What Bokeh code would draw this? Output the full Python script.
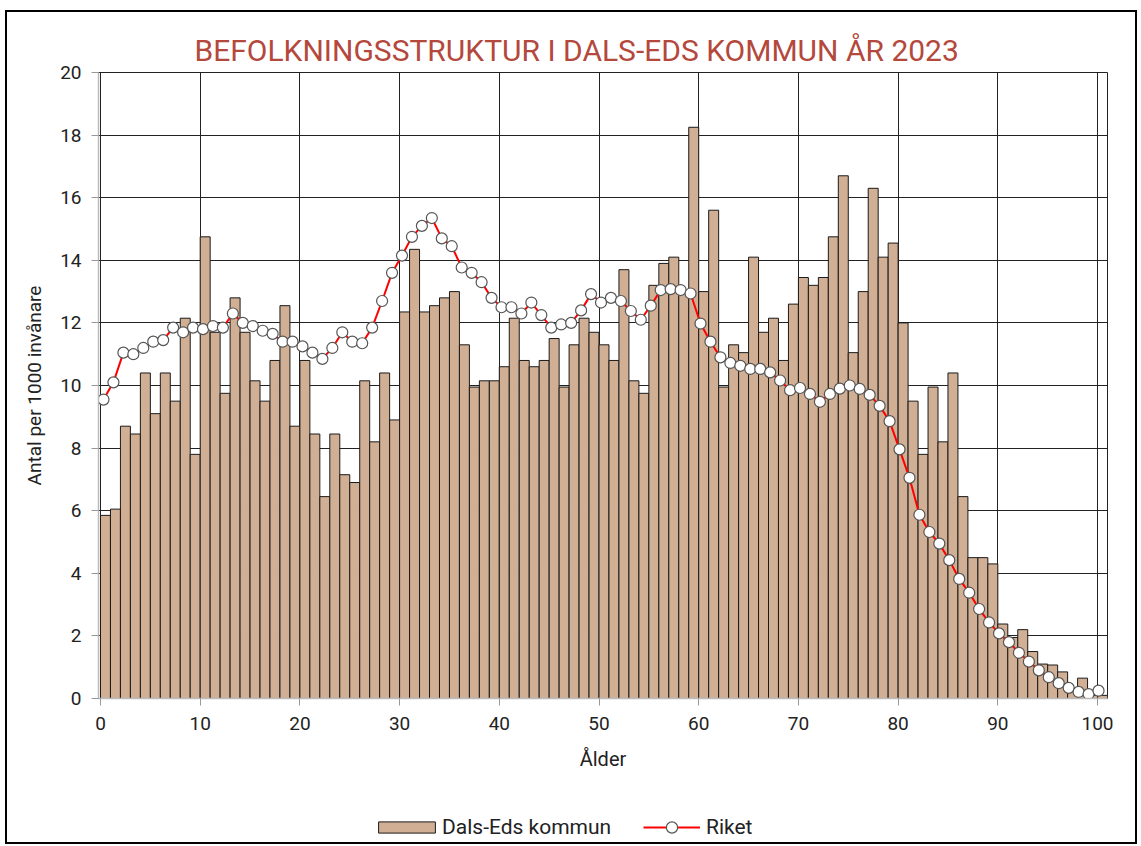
from bokeh.plotting import figure
from bokeh.layouts import column
from bokeh.models import Range1d, Legend, LegendItem, FixedTicker, Title
from bokeh.embed import file_html
from bokeh.resources import INLINE

ages = list(range(0, 101))

dals_ed = [
    5.85, 6.05, 8.7, 8.45, 10.4, 9.1, 10.4, 9.5, 12.15, 7.8,
    14.75, 11.7, 9.75, 12.8, 11.7, 10.15, 9.5, 10.8, 12.55, 8.7,
    10.8, 8.45, 6.45, 8.45, 7.15, 6.9, 10.15, 8.2, 10.4, 8.9,
    12.35, 14.35, 12.35, 12.55, 12.8, 13.0, 11.3, 9.95, 10.15, 10.15,
    10.6, 12.15, 10.8, 10.6, 10.8, 11.5, 9.95, 11.3, 12.15, 11.7,
    11.3, 10.8, 13.7, 10.15, 9.75, 13.2, 13.9, 14.1, 13.0, 18.25,
    13.0, 15.6, 9.95, 11.3, 11.05, 14.1, 11.7, 12.15, 10.8, 12.6,
    13.45, 13.2, 13.45, 14.75, 16.7, 11.05, 13.0, 16.3, 14.1, 14.55,
    12.0, 9.5, 7.8, 9.95, 8.2, 10.4, 6.45, 4.5, 4.5, 4.3,
    2.38, 1.95, 2.2, 1.5, 1.1, 1.07, 0.85, 0.25, 0.65, 0.1, 0.1,
]

riket = [
    9.55, 10.1, 11.05, 11.0, 11.2, 11.4, 11.45, 11.85, 11.7, 11.85,
    11.8, 11.9, 11.85, 12.3, 12.0, 11.9, 11.75, 11.65, 11.4, 11.4,
    11.25, 11.05, 10.85, 11.2, 11.7, 11.4, 11.35, 11.85, 12.7, 13.6,
    14.15, 14.75, 15.1, 15.35, 14.7, 14.45, 13.77, 13.6, 13.3, 12.8,
    12.5, 12.5, 12.3, 12.65, 12.25, 11.85, 11.95, 12.0, 12.4, 12.92,
    12.65, 12.8, 12.7, 12.38, 12.1, 12.55, 13.05, 13.08, 13.05, 12.94,
    11.98, 11.4, 10.9, 10.72, 10.63, 10.53, 10.53, 10.42, 10.16, 9.85,
    9.92, 9.73, 9.48, 9.73, 9.9, 10.0, 9.89, 9.7, 9.35, 8.86,
    7.96, 7.05, 5.87, 5.32, 4.95, 4.42, 3.82, 3.38, 2.86, 2.43,
    2.08, 1.8, 1.46, 1.18, 0.9, 0.68, 0.49, 0.34, 0.21, 0.14, 0.25,
]

x_ticks = [0, 10, 20, 30, 40, 50, 60, 70, 80, 90, 100]
y_ticks = [0, 2, 4, 6, 8, 10, 12, 14, 16, 18, 20]

title_text = "BEFOLKNINGSSTRUKTUR I DALS-EDS KOMMUN ÅR 2023"
x_label = "Ålder"
y_label = "Antal per 1000 invånare"
series_names = ["Dals-Eds kommun", "Riket"]

FONT = "Roboto"
BAR_FILL = "#D0AF94"
BAR_LINE = "#1a1a1a"
LINE_COL = "#FF0000"

bar_right = [a + 1 for a in ages]
line_x = [a * 0.998 + 0.3 for a in ages]

p = figure(width=1128, height=800, output_backend="svg", toolbar_location=None,
           x_range=Range1d(-0.2, 101), y_range=Range1d(0, 20),
           min_border_left=91, min_border_right=28, min_border_top=60,
           min_border_bottom=114)

p.title = Title(text=title_text, align="left", offset=96,
                text_color="#B4483C", text_font=FONT, text_font_size="30px",
                text_font_style="normal")

bars = p.quad(left=ages, right=bar_right, bottom=0, top=dals_ed,
              fill_color=BAR_FILL, line_color=BAR_LINE, line_width=1)
ln = p.line(line_x, riket, line_color=LINE_COL, line_width=2)
mk = p.scatter(line_x, riket, size=11, marker="circle", fill_color="white",
               line_color="#555555", line_width=1.2)

p.xaxis.ticker = FixedTicker(ticks=x_ticks)
p.yaxis.ticker = FixedTicker(ticks=y_ticks)
p.xgrid.ticker = FixedTicker(ticks=x_ticks)
p.ygrid.ticker = FixedTicker(ticks=y_ticks)
p.grid.grid_line_color = "#222222"
p.grid.grid_line_width = 1
p.outline_line_color = "#222222"
p.outline_line_width = 1

for ax in (p.xaxis, p.yaxis):
    ax.axis_line_color = "#BBBBBB"
    ax.axis_line_width = 1.5
    ax.major_tick_line_color = "#999999"
    ax.major_tick_out = 7
    ax.major_tick_in = 0
    ax.minor_tick_line_color = None
    ax.major_label_text_font = FONT
    ax.major_label_text_font_size = "19px"
    ax.major_label_text_color = "#222222"
    ax.axis_label_text_font = FONT
    ax.axis_label_text_font_size = "20px"
    ax.axis_label_text_font_style = "normal"
    ax.axis_label_text_color = "#222222"

p.xaxis.axis_label = x_label
p.xaxis.major_label_standoff = 11
p.xaxis.axis_label_standoff = 14
p.yaxis.axis_label = y_label
p.yaxis.major_label_standoff = 10
p.yaxis.axis_label_standoff = 11
p.yaxis.axis_label_text_font_size = "19px"

# legend strip below the chart (same series, drawn out of view; only the legends show)
pl = figure(width=1128, height=30, output_backend="svg", toolbar_location=None,
            x_range=Range1d(-0.2, 101), y_range=Range1d(100, 101),
            x_axis_type=None, y_axis_type=None,
            min_border_left=0, min_border_right=0, min_border_top=0,
            min_border_bottom=0)
pl.outline_line_color = None
pl.grid.visible = False
lg_bar = pl.quad(left=ages, right=bar_right, bottom=0, top=dals_ed,
                 fill_color=BAR_FILL, line_color=BAR_LINE, line_width=1)
lg_line = pl.line(line_x, riket, line_color=LINE_COL, line_width=2)
lg_mk = pl.scatter(line_x, riket, size=11, marker="circle", fill_color="white",
                   line_color="#555555", line_width=1.2)

common = dict(orientation="horizontal", padding=0, margin=0,
              label_text_font=FONT, label_text_font_size="21px",
              label_text_color="#222222", border_line_alpha=0,
              background_fill_alpha=0)
legend1 = Legend(items=[LegendItem(label=series_names[0], renderers=[lg_bar])],
                 location=(273, 3), glyph_width=71, glyph_height=14,
                 label_standoff=0, **common)
legend2 = Legend(items=[LegendItem(label=series_names[1], renderers=[lg_line, lg_mk])],
                 location=(545, 1), glyph_width=57, glyph_height=28,
                 label_standoff=6, **common)
pl.add_layout(legend1, "center")
pl.add_layout(legend2, "center")

layout = column(p, pl, spacing=0)
layout.styles = {"border": "2px solid black", "margin-top": "10px", "margin-left": "5px"}

open("out.html", "w").write(file_html(layout, INLINE))
